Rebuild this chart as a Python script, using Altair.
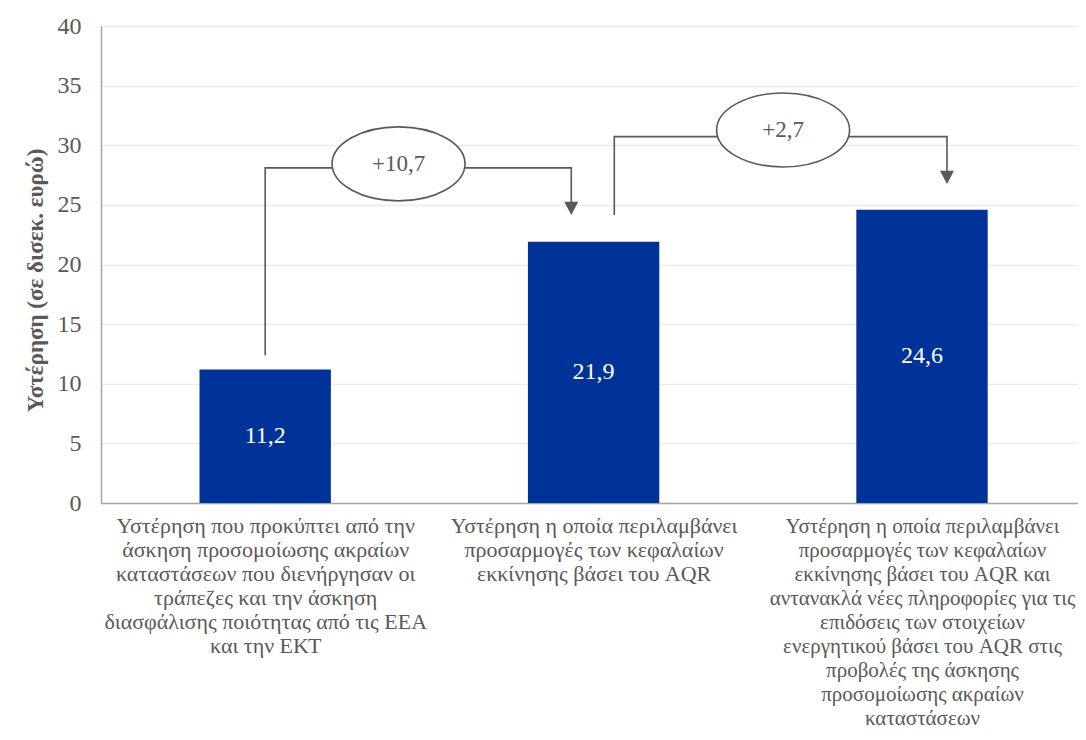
import json
import altair as alt
import pandas as pd

# ---- data ----
categories = [
    ["Υστέρηση που προκύπτει από την", "άσκηση προσομοίωσης ακραίων",
     "καταστάσεων που διενήργησαν οι", "τράπεζες και την άσκηση",
     "διασφάλισης ποιότητας από τις ΕΕΑ", "και την ΕΚΤ"],
    ["Υστέρηση η οποία περιλαμβάνει", "προσαρμογές των κεφαλαίων",
     "εκκίνησης βάσει του AQR"],
    ["Υστέρηση η οποία περιλαμβάνει", "προσαρμογές των κεφαλαίων",
     "εκκίνησης βάσει του AQR και", "αντανακλά νέες πληροφορίες για τις",
     "επιδόσεις των στοιχείων", "ενεργητικού βάσει του AQR στις",
     "προβολές της άσκησης", "προσομοίωσης ακραίων", "καταστάσεων"],
]
bar_pos = [0.5, 1.5, 2.5]
bar_values = [11.2, 21.9, 24.6]
bar_labels = ["11,2", "21,9", "24,6"]

# connectors (x in category units, y in billions)
conn_group = ["a", "a", "a", "a", "b", "b", "b", "b"]
conn_x = [0.5, 0.5, 1.432, 1.432, 1.563, 1.563, 2.576, 2.576]
conn_y = [12.4, 28.1, 28.1, 24.3, 24.15, 30.72, 30.72, 26.9]

arrow_x = [1.432, 2.576]
arrow_y = [24.15, 26.75]

ell_x = [0.906, 2.077]
ell_y = [28.44, 31.28]
ell_labels = ["+10,7", "+2,7"]

FONT = "Liberation Serif, Times New Roman, Times, DejaVu Serif, serif"
GREY = "#595959"
BLUE = "#003399"

bars_df = pd.DataFrame({"pos": bar_pos, "value": bar_values, "label": bar_labels})
bars_df["x0"] = bars_df["pos"] - 0.2
bars_df["x1"] = bars_df["pos"] + 0.2
bars_df["mid"] = bars_df["value"] / 2
bars_df["base"] = 0.0

conn_df = pd.DataFrame({"g": conn_group, "x": conn_x, "y": conn_y,
                        "o": list(range(len(conn_x)))})
arrow_df = pd.DataFrame({"x": arrow_x, "y": arrow_y})
ell_df = pd.DataFrame({"x": ell_x, "y": ell_y, "label": ell_labels})

label_expr = json.dumps(categories, ensure_ascii=False) + "[floor(datum.value)]"

xscale = alt.Scale(domain=[0, 2.975], nice=False, zero=False)
yscale = alt.Scale(domain=[0, 40], nice=False)

x_axis = alt.Axis(values=bar_pos, labelExpr=label_expr, title=None, grid=False,
                  ticks=False, domainColor="#A6A6A6", domainWidth=1.5,
                  labelFont=FONT,
                  labelFontSize=alt.ExprRef("datum.value > 2 ? 21 : 22"),
                  labelColor=GREY,
                  labelLineHeight=24, labelBaseline="top", labelPadding=12,
                  labelLimit=0, labelOverlap=False, labelFlush=False,
                  labelAlign="center")
y_axis = alt.Axis(values=list(range(0, 41, 5)), title="Υστέρηση (σε δισεκ. ευρώ)",
                  grid=True, gridColor="#EBEBEB", gridWidth=1.5, ticks=False,
                  domainColor="#A6A6A6", domainWidth=1.5,
                  labelFont=FONT, labelFontSize=24, labelColor=GREY, labelPadding=20,
                  titleFont=FONT, titleFontSize=23, titleFontWeight="bold",
                  titleColor=GREY, titleX=-66, titleY=254, titleBaseline="middle",
                  titleAngle=270)

bars = alt.Chart(bars_df).mark_bar(color=BLUE).encode(
    x=alt.X("x0:Q", scale=xscale, axis=x_axis),
    x2="x1",
    y=alt.Y("value:Q", scale=yscale, axis=y_axis),
    y2="base:Q",
)

bar_text = alt.Chart(bars_df).mark_text(font=FONT, fontSize=24, color="white",
                                        baseline="middle").encode(
    x=alt.X("pos:Q", scale=xscale),
    y=alt.Y("mid:Q", scale=yscale),
    text="label:N",
)

lines = alt.Chart(conn_df).mark_line(color=GREY, strokeWidth=1.6,
                                     strokeCap="butt", strokeJoin="miter").encode(
    x=alt.X("x:Q", scale=xscale),
    y=alt.Y("y:Q", scale=yscale),
    detail="g:N",
    order="o:Q",
)

arrows = alt.Chart(arrow_df).mark_point(
    shape="M -1 -1.9 L 1 -1.9 L 0 0 Z", size=196, filled=True,
    color=GREY, opacity=1, strokeWidth=0).encode(
    x=alt.X("x:Q", scale=xscale),
    y=alt.Y("y:Q", scale=yscale),
)

ry, k = 0.556, 0.5523
ellipse_path = (
    f"M -1 0 C -1 {-ry*k:.4f} {-k:.4f} {-ry} 0 {-ry} "
    f"C {k:.4f} {-ry} 1 {-ry*k:.4f} 1 0 "
    f"C 1 {ry*k:.4f} {k:.4f} {ry} 0 {ry} "
    f"C {-k:.4f} {ry} -1 {ry*k:.4f} -1 0 Z"
)
ellipses = alt.Chart(ell_df).mark_point(
    shape=ellipse_path, size=133 * 133, filled=False, fill="white",
    fillOpacity=1, stroke=GREY, strokeWidth=1.6, opacity=1).encode(
    x=alt.X("x:Q", scale=xscale),
    y=alt.Y("y:Q", scale=yscale),
)

ell_text = alt.Chart(ell_df).mark_text(font=FONT, fontSize=23, color=GREY,
                                       baseline="middle").encode(
    x=alt.X("x:Q", scale=xscale),
    y=alt.Y("y:Q", scale=yscale),
    text="label:N",
)

chart = alt.layer(bars, bar_text, lines, arrows, ellipses, ell_text).properties(
    width=977, height=477,
    autosize=alt.AutoSizeParams(type="none"),
    padding={"left": 93, "top": 18, "right": 0, "bottom": 229},
).configure_view(stroke=None).configure(background="white")

chart.save("out.html", embed_options={"renderer": "svg", "actions": False})
